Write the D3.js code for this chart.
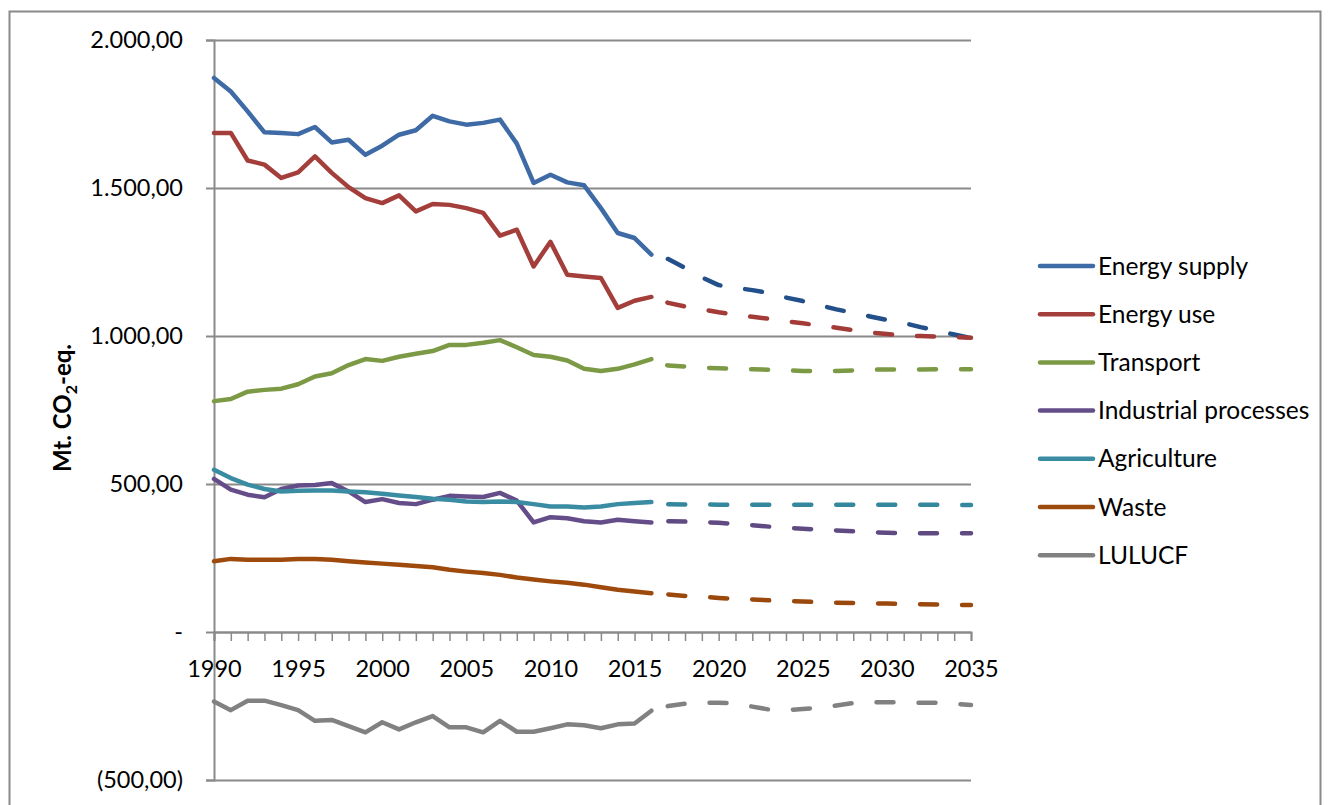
<!DOCTYPE html>
<html lang="en">
<head>
    <meta charset="UTF-8">
    <title>Emissions per sector</title>
    <script src="https://cdn.jsdelivr.net/npm/d3@7"></script>
    <style>
        body { margin: 0; background: #ffffff; }
        text { font-family: "Lato", "Liberation Sans", sans-serif; fill: #000; }
    </style>
</head>
<body>
<script>

    // years: measured 1990-2016, projected 2016-2035
    var histYears = [1990,1991,1992,1993,1994,1995,1996,1997,1998,1999,2000,2001,2002,2003,2004,
                     2005,2006,2007,2008,2009,2010,2011,2012,2013,2014,2015,2016];
    var projYears = [2016,2017,2018,2019,2020,2021,2022,2023,2024,2025,2026,2027,2028,2029,2030,
                     2031,2032,2033,2034,2035];

    var seriesNames = ["Energy supply", "Energy use", "Transport", "Industrial processes", "Agriculture", "Waste", "LULUCF"];

    var energySupplyHist = [1872,1826,1759,1688,1686,1682,1706,1654,1663,1612,1643,1680,1695,1744,1725,1714,1720,1731,1650,1517,1545,1519,1509,1432,1348,1331,1275];
    var energySupplyProj = [1275,1260,1230,1198,1172,1163,1155,1145,1130,1118,1104,1090,1078,1066,1054,1044,1030,1018,1005,993];

    var energyUseHist = [1686,1686,1593,1579,1534,1553,1607,1551,1503,1466,1449,1475,1421,1446,1443,1432,1416,1339,1359,1235,1318,1207,1201,1196,1095,1119,1132];
    var energyUseProj = [1132,1112,1100,1090,1080,1072,1065,1058,1050,1043,1035,1028,1020,1012,1007,1001,1000,998,996,994];

    var transportHist = [780,787,812,818,822,837,863,874,902,922,916,930,940,949,970,970,977,986,962,936,930,917,889,882,889,904,922];
    var transportProj = [922,900,897,893,891,889,888,886,884,882,882,882,884,886,887,887,887,888,888,888];

    var industryHist = [517,481,464,455,483,495,497,503,475,439,449,436,432,447,460,458,456,470,444,370,388,384,374,370,379,374,370];
    var industryProj = [370,374,373,371,369,365,361,356,352,349,346,343,340,337,335,334,334,334,334,334];

    var agricultureHist = [548,520,498,483,475,477,478,478,475,472,467,461,456,450,447,441,439,441,439,432,424,424,421,424,432,436,439];
    var agricultureProj = [439,432,431,431,430,430,430,430,430,430,430,430,430,430,430,430,430,430,429,429];

    var wasteHist = [239,247,244,244,244,247,247,244,239,235,231,227,223,219,210,204,199,193,184,177,171,166,160,151,143,137,131];
    var wasteProj = [131,127,122,119,115,112,110,107,105,103,101,99,98,97,96,95,94,93,92,91];

    var lulucfHist = [-235,-264,-232,-232,-247,-264,-300,-297,-318,-339,-305,-329,-305,-284,-322,-322,-339,-300,-337,-337,-325,-312,-315,-325,-312,-309,-266];
    var lulucfProj = [-266,-250,-242,-239,-239,-241,-252,-262,-264,-260,-256,-248,-240,-238,-237,-238,-239,-239,-242,-247];

    var yTicks = [-500, 0, 500, 1000, 1500, 2000];
    var xLabelYears = [1990,1995,2000,2005,2010,2015,2020,2025,2030,2035];

    var lineColors = ["#3e6ba6", "#a33e3b", "#7c9a45", "#654d89", "#3a8ca3", "#9e4a0d", "#818181"];
    var dashColors = ["#234f8a", "#a33c39", "#7c9a45", "#5f4a82", "#35879d", "#9b480d", "#818181"];

    var histSeries = [energySupplyHist, energyUseHist, transportHist, industryHist, agricultureHist, wasteHist, lulucfHist];
    var projSeries = [energySupplyProj, energyUseProj, transportProj, industryProj, agricultureProj, wasteProj, lulucfProj];

    var widthSVG = 1330, heightSVG = 805;
    var svg = d3.select("body").append("svg")
                .attr("width", widthSVG)
                .attr("height", heightSVG);

    // chart border
    svg.append("rect")
        .attr("x", 9.5).attr("y", 11.5)
        .attr("width", 1311).attr("height", 810)
        .attr("fill", "none")
        .attr("stroke", "#8a8a8a")
        .attr("stroke-width", 2);

    var plot = {left: 214, right: 971, top: 40, bottom: 780};

    var scaleX = d3.scaleLinear().domain([1990, 2035]).range([plot.left, plot.right]);
    var scaleY = d3.scaleLinear().domain([-500, 2000]).range([plot.bottom, plot.top]);

    // 2.000,00 / - / (500,00)
    var fmt = d3.formatLocale({decimal: ",", thousands: ".", grouping: [3], currency: ["", ""]}).format(",.2f");
    function yFormat(v){
        if (v === 0) return "-";
        if (v < 0) return "(" + fmt(-v) + ")";
        return fmt(v);
    }

    // gridlines
    svg.append("g")
        .attr("class", "grid")
        .attr("transform", "translate(" + plot.left + ",0)")
        .call(d3.axisRight(scaleY).tickValues(yTicks).tickSize(plot.right - plot.left).tickFormat(""))
        .call(function (g){ g.select(".domain").remove(); })
        .selectAll("line").attr("stroke", "#8a8a8a").attr("stroke-width", 2);

    // y axis
    var gy = svg.append("g")
        .attr("transform", "translate(" + plot.left + ",0)")
        .call(d3.axisLeft(scaleY).tickValues(yTicks).tickSize(8).tickPadding(23).tickFormat(yFormat));
    gy.select(".domain").attr("stroke", "#8a8a8a").attr("stroke-width", 2);
    gy.selectAll("line").attr("stroke", "#8a8a8a").attr("stroke-width", 2);
    gy.selectAll("text").attr("font-size", "23.5px").attr("font-family", "Lato, 'Liberation Sans', sans-serif");

    // x axis on the zero line
    var allYears = histYears.concat(projYears.slice(1));
    var gx = svg.append("g")
        .attr("transform", "translate(0," + scaleY(0) + ")")
        .call(d3.axisBottom(scaleX).tickValues(allYears).tickSize(9).tickPadding(19)
            .tickFormat(function (d){ return xLabelYears.indexOf(d) >= 0 ? String(d) : ""; }));
    gx.select(".domain").attr("stroke", "#8a8a8a").attr("stroke-width", 2);
    gx.selectAll("line").attr("stroke", "#8a8a8a").attr("stroke-width", 1.5);
    gx.selectAll("text").attr("font-size", "23.5px").attr("font-family", "Lato, 'Liberation Sans', sans-serif");

    // y axis title
    var title = svg.append("text")
        .attr("transform", "translate(71,408) rotate(-90)")
        .attr("text-anchor", "middle")
        .attr("font-size", "24px")
        .attr("font-weight", "bold");
    title.append("tspan").text("Mt. CO");
    title.append("tspan").attr("font-size", "16px").attr("dy", "6").text("2");
    title.append("tspan").attr("dy", "-6").text("-eq.");

    var line = d3.line()
                 .x(function (d){ return scaleX(d[0]); })
                 .y(function (d){ return scaleY(d[1]); });

    // measured lines
    svg.selectAll(".hist")
        .data(histSeries)
        .enter()
        .append("path")
        .attr("class", "hist")
        .attr("fill", "none")
        .attr("stroke", function (d, i){ return lineColors[i]; })
        .attr("stroke-width", 4.5)
        .attr("stroke-linejoin", "round")
        .attr("stroke-linecap", "round")
        .attr("d", function (d){
            return line(d.map(function (v, j){ return [histYears[j], v]; }));
        });

    // projected lines, dashed
    svg.selectAll(".proj")
        .data(projSeries)
        .enter()
        .append("path")
        .attr("class", "proj")
        .attr("fill", "none")
        .attr("stroke", function (d, i){ return dashColors[i]; })
        .attr("stroke-width", 4.5)
        .attr("stroke-linejoin", "round")
        .attr("stroke-linecap", "round")
        .attr("stroke-dasharray", "17,25")
        .attr("stroke-dashoffset", 25)
        .attr("d", function (d){
            return line(d.map(function (v, j){ return [projYears[j], v]; }));
        });

    // legend
    var legend = svg.selectAll(".legend")
        .data(seriesNames)
        .enter()
        .append("g")
        .attr("class", "legend")
        .attr("transform", function (d, i){ return "translate(1040," + (266 + i * 48.2) + ")"; });
    legend.append("line")
        .attr("x1", 0).attr("x2", 53)
        .attr("stroke", function (d, i){ return lineColors[i]; })
        .attr("stroke-width", 4.5)
        .attr("stroke-linecap", "round");
    legend.append("text")
        .attr("x", 58)
        .attr("dy", "0.35em")
        .attr("font-size", "24.5px")
        .text(function (d){ return d; });

</script>
</body>
</html>
